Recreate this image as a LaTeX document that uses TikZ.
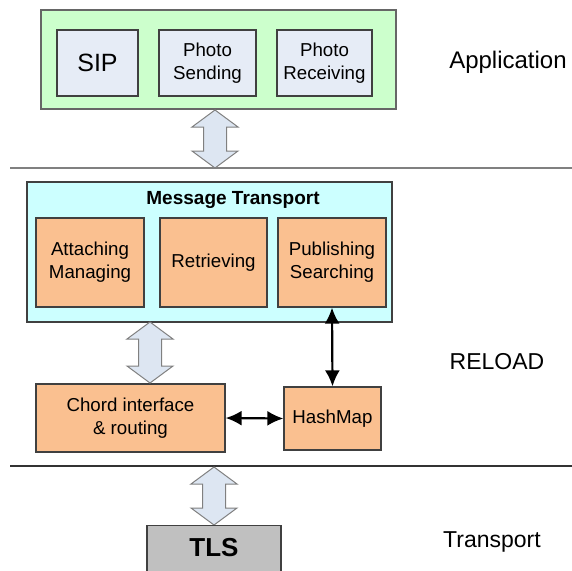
\documentclass[tikz,border=0pt]{standalone}
\usepackage{fontspec}
\setmainfont{Liberation Sans}
\usetikzlibrary{arrows.meta}
\definecolor{appgreen}{HTML}{CCFFCC}
\definecolor{inbox}{HTML}{E6ECF6}
\definecolor{cyanbox}{HTML}{CCFFFF}
\definecolor{orangebox}{HTML}{FAC090}
\definecolor{tlsgray}{HTML}{C0C0C0}
\definecolor{arrowfill}{HTML}{DDE6F2}
\definecolor{edgecol}{HTML}{404040}
\definecolor{sepcol}{HTML}{808080}
\newcommand\hollowarr[3]{%
  \draw[harrow] (#1,#2) -- (#1+23,#2+17) -- (#1+11.5,#2+17) -- (#1+11.5,#3-17)
   -- (#1+23,#3-17) -- (#1,#3) -- (#1-23,#3-17) -- (#1-11.5,#3-17)
   -- (#1-11.5,#2+17) -- (#1-23,#2+17) -- cycle;}
\begin{document}
\begin{tikzpicture}[x=1pt,y=-1pt,
  box/.style={draw=edgecol, line width=1.3pt, rectangle, inner sep=0pt, align=center,
    font=\fontsize{18.7}{23}\selectfont},
  lbl/.style={font=\fontsize{23}{27}\selectfont, inner sep=0pt},
  harrow/.style={draw=gray, line width=1pt, fill=arrowfill, line join=miter},
  sep/.style={draw=sepcol, line width=1.5pt},
  blk/.style={line width=2.2pt, arrows={Latex[length=16pt,width=15pt]-Latex[length=16pt,width=15pt]}}]
\useasboundingbox (0,0) rectangle (572,570);
% Application layer
\node[box, draw=gray!80!black, fill=appgreen, minimum width=355pt, minimum height=99pt] (app) at (218.5,59.5) {};
\node[box, fill=inbox, minimum width=81pt, minimum height=66pt, font=\fontsize{25}{28}\selectfont] (sip) at (97.5,63) {SIP};
\node[box, fill=inbox, minimum width=97pt, minimum height=66pt] (psend) at (207.5,63) {Photo\\Sending};
\node[box, fill=inbox, minimum width=95pt, minimum height=66pt] (precv) at (324.5,63) {Photo\\Receiving};
\node[lbl, font=\fontsize{24}{28}\selectfont] (applbl) at (508,62) {Application};
% separator 1
\coordinate (s1a) at (10,168);
\coordinate (s1b) at (572,168);
\draw[sep] (s1a) -- (s1b);
\hollowarr{215}{110}{168}
% RELOAD layer
\node[box, fill=cyanbox, minimum width=365pt, minimum height=140pt] (mt) at (209.5,252) {};
\node[inner sep=0pt, font=\fontsize{19}{22}\selectfont\bfseries] (mttitle) at (233,200) {Message Transport};
\node[box, fill=orangebox, minimum width=108pt, minimum height=89pt] (att) at (90,262.5) {Attaching\\Managing};
\node[box, fill=orangebox, minimum width=107pt, minimum height=89pt] (ret) at (213.5,262.5) {Retrieving};
\node[box, fill=orangebox, minimum width=108pt, minimum height=89pt] (pub) at (332,262.5) {Publishing\\Searching};
\node[box, fill=orangebox, minimum width=189pt, minimum height=68pt] (chord) at (130.5,418) {Chord interface\\\& routing};
\node[box, fill=orangebox, minimum width=97pt, minimum height=63pt] (hash) at (332.5,418.5) {HashMap};
\node[lbl] (reload) at (497,362) {RELOAD};
\hollowarr{150}{322}{383}
\draw[blk] (pub.south) -- (hash.north);
\draw[blk] (chord.east) -- (hash.west);
% separator 2
\coordinate (s2a) at (10,466);
\coordinate (s2b) at (572,466);
\draw[sep, draw=black!80] (s2a) -- (s2b);
\hollowarr{214}{467}{525}
% Transport layer
\node[box, fill=tlsgray, minimum width=134pt, minimum height=60pt, anchor=north] (tls) at (214,525) {};
\node[inner sep=0pt, font=\fontsize{26}{30}\selectfont\bfseries] (tlstext) at (214,548) {TLS};
\node[lbl] (translbl) at (492,542) {Transport};
\end{tikzpicture}
\end{document}
